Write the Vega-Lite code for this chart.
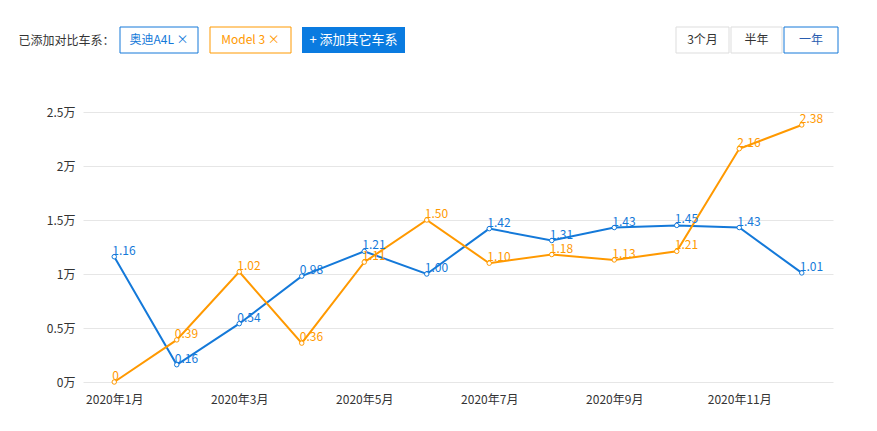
{
  "$schema": "https://vega.github.io/schema/vega-lite/v6.json",
  "padding": {"left": 18, "top": 26, "right": 5, "bottom": 5},
  "config": {
    "font": "Noto Sans CJK SC",
    "view": {"stroke": null}
  },
  "datasets": {
    "sales": [
      {"car": "奥迪A4L", "m": 1, "v": 1.16},
      {"car": "奥迪A4L", "m": 2, "v": 0.16},
      {"car": "奥迪A4L", "m": 3, "v": 0.54},
      {"car": "奥迪A4L", "m": 4, "v": 0.98},
      {"car": "奥迪A4L", "m": 5, "v": 1.21},
      {"car": "奥迪A4L", "m": 6, "v": 1.00},
      {"car": "奥迪A4L", "m": 7, "v": 1.42},
      {"car": "奥迪A4L", "m": 8, "v": 1.31},
      {"car": "奥迪A4L", "m": 9, "v": 1.43},
      {"car": "奥迪A4L", "m": 10, "v": 1.45},
      {"car": "奥迪A4L", "m": 11, "v": 1.43},
      {"car": "奥迪A4L", "m": 12, "v": 1.01},
      {"car": "Model 3", "m": 1, "v": 0},
      {"car": "Model 3", "m": 2, "v": 0.39},
      {"car": "Model 3", "m": 3, "v": 1.02},
      {"car": "Model 3", "m": 4, "v": 0.36},
      {"car": "Model 3", "m": 5, "v": 1.11},
      {"car": "Model 3", "m": 6, "v": 1.50},
      {"car": "Model 3", "m": 7, "v": 1.10},
      {"car": "Model 3", "m": 8, "v": 1.18},
      {"car": "Model 3", "m": 9, "v": 1.13},
      {"car": "Model 3", "m": 10, "v": 1.21},
      {"car": "Model 3", "m": 11, "v": 2.16},
      {"car": "Model 3", "m": 12, "v": 2.38}
    ]
  },
  "spacing": 52,
  "vconcat": [
    {
      "spacing": 270,
      "hconcat": [
        {
          "spacing": 4,
          "hconcat": [
            {
              "width": 31, "height": 26,
              "data": {"values": [{"label": "已添加对比车系："}]},
              "mark": {"type": "point", "opacity": 0},
              "encoding": {
                "y": {
                  "field": "label", "type": "nominal",
                  "axis": {
                    "title": null, "domain": false, "ticks": false, "tickSize": 0,
                    "labelAlign": "left", "labelPadding": 65, "labelLimit": 200,
                    "labelFontSize": 12, "labelColor": "#333333"
                  }
                }
              }
            },
            {
              "spacing": 10,
              "hconcat": [
                {
                  "width": 78, "height": 26,
                  "data": {"values": [{"label": "奥迪A4L   ×"}]},
                  "layer": [
                    {"mark": {"type": "rect", "fill": "white", "stroke": "#1479d9", "strokeWidth": 1}, "encoding": {}},
                    {"mark": {"type": "text", "fontSize": 12, "color": "#1479d9"}, "encoding": {"text": {"field": "label"}}}
                  ]
                },
                {
                  "width": 81, "height": 26,
                  "data": {"values": [{"label": "Model 3   ×"}]},
                  "layer": [
                    {"mark": {"type": "rect", "fill": "white", "stroke": "#ff9900", "strokeWidth": 1}, "encoding": {}},
                    {"mark": {"type": "text", "fontSize": 12, "color": "#ff9900"}, "encoding": {"text": {"field": "label"}}}
                  ]
                },
                {
                  "width": 103, "height": 26,
                  "data": {"values": [{"label": "+ 添加其它车系"}]},
                  "layer": [
                    {"mark": {"type": "rect", "fill": "#0a7be0"}, "encoding": {}},
                    {"mark": {"type": "text", "fontSize": 13, "color": "white"}, "encoding": {"text": {"field": "label"}}}
                  ]
                }
              ]
            }
          ]
        },
        {
          "spacing": 0,
          "hconcat": [
            {
              "width": 53, "height": 26,
              "data": {"values": [{"label": "3个月"}]},
              "layer": [
                {"mark": {"type": "rect", "fill": "white", "stroke": "#dddddd", "strokeWidth": 1}, "encoding": {}},
                {"mark": {"type": "text", "fontSize": 12, "color": "#333333"}, "encoding": {"text": {"field": "label"}}}
              ]
            },
            {
              "width": 51, "height": 26,
              "data": {"values": [{"label": "半年"}]},
              "layer": [
                {"mark": {"type": "rect", "fill": "white", "stroke": "#dddddd", "strokeWidth": 1}, "encoding": {}},
                {"mark": {"type": "text", "fontSize": 12, "color": "#333333"}, "encoding": {"text": {"field": "label"}}}
              ]
            },
            {
              "width": 54, "height": 26,
              "data": {"values": [{"label": "一年"}]},
              "layer": [
                {"mark": {"type": "rect", "fill": "white", "stroke": "#1479d9", "strokeWidth": 1}, "encoding": {}},
                {"mark": {"type": "text", "fontSize": 12, "color": "#2a5db0"}, "encoding": {"text": {"field": "label"}}}
              ]
            }
          ]
        }
      ]
    },
    {
      "width": 750,
      "height": 270,
      "data": {"name": "sales"},
      "transform": [
        {"calculate": "datum.v == 0 ? '0' : format(datum.v, '.2f')", "as": "label"}
      ],
      "encoding": {
        "x": {
          "field": "m", "type": "ordinal",
          "scale": {"type": "point", "padding": 0.5},
          "axis": {
            "title": null, "values": [1, 3, 5, 7, 9, 11],
            "labelExpr": "'2020年' + datum.value + '月'",
            "labelAngle": 0, "domain": false, "ticks": false, "grid": false,
            "labelPadding": 12, "labelFontSize": 12, "labelColor": "#333333"
          }
        },
        "y": {
          "field": "v", "type": "quantitative",
          "scale": {"domain": [0, 2.5]},
          "axis": {
            "title": null, "values": [0, 0.5, 1, 1.5, 2, 2.5],
            "labelExpr": "datum.value + '万'",
            "domain": false, "ticks": false, "gridColor": "#e6e6e6",
            "labelPadding": 8, "labelFontSize": 12, "labelColor": "#333333",
            "minExtent": 65
          }
        },
        "color": {
          "field": "car", "type": "nominal",
          "scale": {"domain": ["奥迪A4L", "Model 3"], "range": ["#1479d9", "#ff9900"]},
          "legend": null
        }
      },
      "layer": [
        {"mark": {"type": "line", "strokeWidth": 2}},
        {"mark": {"type": "point", "filled": false, "fill": "white", "fillOpacity": 1, "size": 20, "strokeWidth": 1, "opacity": 1}},
        {
          "mark": {"type": "text", "align": "left", "baseline": "alphabetic", "dx": -2, "dy": -2, "fontSize": 12},
          "encoding": {"text": {"field": "label"}}
        }
      ]
    }
  ]
}
